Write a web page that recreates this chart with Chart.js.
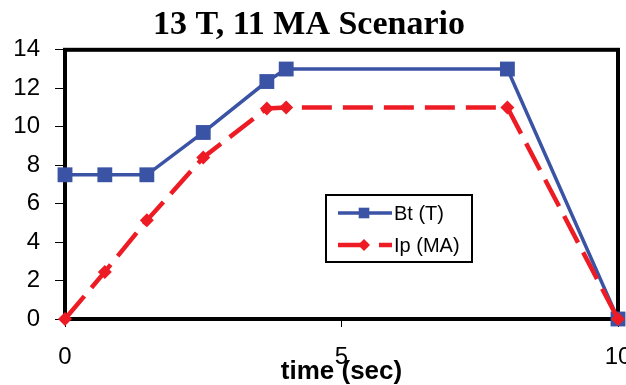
<!DOCTYPE html>
<html>
<head>
<meta charset="utf-8">
<script src="https://cdn.jsdelivr.net/npm/chart.js@4"></script>
<style>
    html, body { margin: 0; padding: 0; background: #fff; overflow: hidden; }
    #wrap { width: 626px; height: 385px; overflow: hidden; position: relative; }
    #scenarioChart { position: absolute; left: 0; top: 0; }
</style>
</head>
<body>
<div id="wrap"><canvas id="scenarioChart" width="640" height="392"></canvas></div>
<script>
// values
const timeSec = [0, 0.72, 1.48, 2.5, 3.65, 4, 8, 10];
const btTesla = [7.5, 7.5, 7.5, 9.7, 12.35, 13, 13, 0];
const ipMA = [0, 2.45, 5.13, 8.4, 10.95, 11, 11, 0];
const yTicks = [0, 2, 4, 6, 8, 10, 12, 14];
const xTicks = [0, 5, 10];

const BLUE = '#3A53A4';
const RED = '#ED1C24';

document.addEventListener('DOMContentLoaded', () => {
    const ctx = document.getElementById('scenarioChart').getContext('2d');

    const toPoints = (xs, ys) => xs.map((x, i) => ({ x: x, y: ys[i] }));

    // thick black frame round the plot area (drawn under the markers)
    const frame = {
        id: 'frame',
        beforeDatasetsDraw(chart) {
            const a = chart.chartArea;
            const c = chart.ctx;
            c.save();
            c.strokeStyle = '#000';
            c.lineWidth = 4;
            c.strokeRect(a.left, a.top, a.right - a.left, a.bottom - a.top);
            c.restore();
        }
    };

    // boxed legend like the excel one
    const boxLegend = {
        id: 'boxLegend',
        afterDraw(chart) {
            const c = chart.ctx;
            const left = 326, top = 195, w = 146, h = 67;
            c.save();
            c.fillStyle = '#fff';
            c.fillRect(left, top, w, h);
            c.strokeStyle = '#000';
            c.lineWidth = 2;
            c.strokeRect(left, top, w, h);
            c.font = '20px "Liberation Sans", Arial, sans-serif';
            c.textBaseline = 'middle';
            c.textAlign = 'left';
            chart.data.datasets.forEach((ds, i) => {
                const y = 213 + i * 32;
                c.strokeStyle = ds.borderColor;
                c.lineWidth = ds.borderWidth;
                c.setLineDash(ds.borderDash || []);
                c.beginPath();
                c.moveTo(338, y);
                c.lineTo(392, y);
                c.stroke();
                c.setLineDash([]);
                c.fillStyle = ds.backgroundColor;
                Chart.helpers.drawPoint(c, {
                    pointStyle: ds.pointStyle,
                    radius: ds.pointStyle === 'rect' ? 7.5 : 6,
                    borderWidth: 0
                }, 364, y);
                c.fillStyle = '#000';
                c.fillText(ds.label, 394, y + 1);
            });
            c.restore();
        }
    };

    new Chart(ctx, {
        type: 'line',
        data: {
            datasets: [
                {
                    label: 'Bt (T)',
                    data: toPoints(timeSec, btTesla),
                    borderColor: BLUE,
                    backgroundColor: BLUE,
                    borderWidth: 3.5,
                    pointStyle: 'rect',
                    pointRadius: 10.5,
                    pointBorderWidth: 0,
                    order: 1,
                    clip: false
                },
                {
                    label: 'Ip (MA)',
                    data: toPoints(timeSec, ipMA),
                    borderColor: RED,
                    backgroundColor: RED,
                    borderWidth: 4.5,
                    borderDash: [30, 11],
                    pointStyle: 'rectRot',
                    pointRadius: 7,
                    pointBorderWidth: 0,
                    order: 0,
                    clip: false
                }
            ]
        },
        options: {
            responsive: false,
            animation: false,
            events: [],
            layout: { padding: { left: 0, right: 22, top: 0, bottom: 0 } },
            plugins: {
                legend: { display: false },
                tooltip: { enabled: false },
                title: {
                    display: true,
                    text: '13 T, 11 MA Scenario',
                    color: '#000',
                    font: { family: '"Liberation Serif", "Times New Roman", serif', size: 34, weight: 'bold', lineHeight: 1.2 },
                    padding: { top: 5, bottom: 4 }
                }
            },
            scales: {
                x: {
                    type: 'linear',
                    min: 0,
                    max: 10,
                    afterBuildTicks: axis => { axis.ticks = xTicks.map(v => ({ value: v })); },
                    // let the "10" run off the edge like in the original
                    afterFit: axis => { axis.height = 73; axis.paddingRight = 0; axis.paddingLeft = 0; },
                    grid: { drawOnChartArea: false, drawTicks: true, tickLength: 8, color: '#000', lineWidth: 1 },
                    border: { display: false },
                    ticks: {
                        color: '#000',
                        padding: 16,
                        maxRotation: 0,
                        font: { family: '"Liberation Sans", Arial, sans-serif', size: 24 }
                    },
                    title: {
                        display: true,
                        text: 'time (sec)',
                        color: '#000',
                        font: { family: '"Liberation Sans", Arial, sans-serif', size: 26, weight: 'bold', lineHeight: 1.2 },
                        padding: { top: 0, bottom: 5 }
                    }
                },
                y: {
                    min: 0,
                    max: 14,
                    afterBuildTicks: axis => { axis.ticks = yTicks.map(v => ({ value: v })); },
                    afterFit: axis => { axis.width = 65; },
                    grid: { drawOnChartArea: false, drawTicks: true, tickLength: 10, color: '#000', lineWidth: 1 },
                    border: { display: false },
                    ticks: {
                        color: '#000',
                        padding: 15,
                        font: { family: '"Liberation Sans", Arial, sans-serif', size: 24 }
                    }
                }
            }
        },
        plugins: [frame, boxLegend]
    });
});
</script>
</body>
</html>
